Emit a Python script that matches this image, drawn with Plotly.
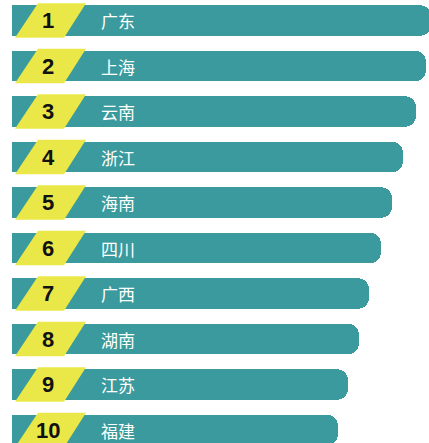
import plotly.graph_objects as go

ranks = [1, 2, 3, 4, 5, 6, 7, 8, 9, 10]
provinces = ["广东", "上海", "云南", "浙江", "海南", "四川", "广西", "湖南", "江苏", "福建"]
values = [419, 414, 404, 391, 380, 369, 357, 347, 336, 326]

TEAL = "rgb(58,154,157)"
YELLOW = "rgb(234,232,72)"

ypos = list(range(len(ranks)))

fig = go.Figure()
fig.add_trace(go.Bar(
    x=values, y=ypos, orientation="h",
    width=0.67,
    marker=dict(color=TEAL, cornerradius=11, line=dict(width=0)),
    hoverinfo="skip",
))

shapes = []
annotations = []
h = 0.38  # half height of yellow tag in category units
for i, (r, p) in enumerate(zip(ranks, provinces)):
    path = (f"M 3 {i + h} L 52 {i + h} L 74 {i - h} L 26 {i - h} Z")
    shapes.append(dict(type="path", path=path, xref="x", yref="y",
                       fillcolor=YELLOW, line=dict(width=0), layer="above"))
    annotations.append(dict(x=36, y=i, xref="x", yref="y", text=str(r),
                            showarrow=False, xanchor="center", yanchor="middle",
                            font=dict(family="Liberation Sans, Arial", size=22,
                                      color="#111111", weight="bold")))
    annotations.append(dict(x=87, y=i, xref="x", yref="y", text=p,
                            showarrow=False, xanchor="left", yanchor="middle",
                            font=dict(family="Noto Sans CJK SC", size=17,
                                      color="white")))

W, H = 429, 443
pitch = 45.5
c1 = 20.5
fig.update_layout(
    width=W, height=H,
    margin=dict(l=0, r=0, t=0, b=0),
    paper_bgcolor="white", plot_bgcolor="white",
    showlegend=False,
    shapes=shapes, annotations=annotations,
    xaxis=dict(range=[-12, W - 12], visible=False, fixedrange=True),
    yaxis=dict(range=[(H - c1) / pitch, -c1 / pitch], visible=False,
               fixedrange=True),
    bargap=0,
)

fig.write_html("out.html",
               config={"displayModeBar": False, "staticPlot": True},
               post_script="document.body.style.margin='0';document.body.style.overflow='hidden';")
